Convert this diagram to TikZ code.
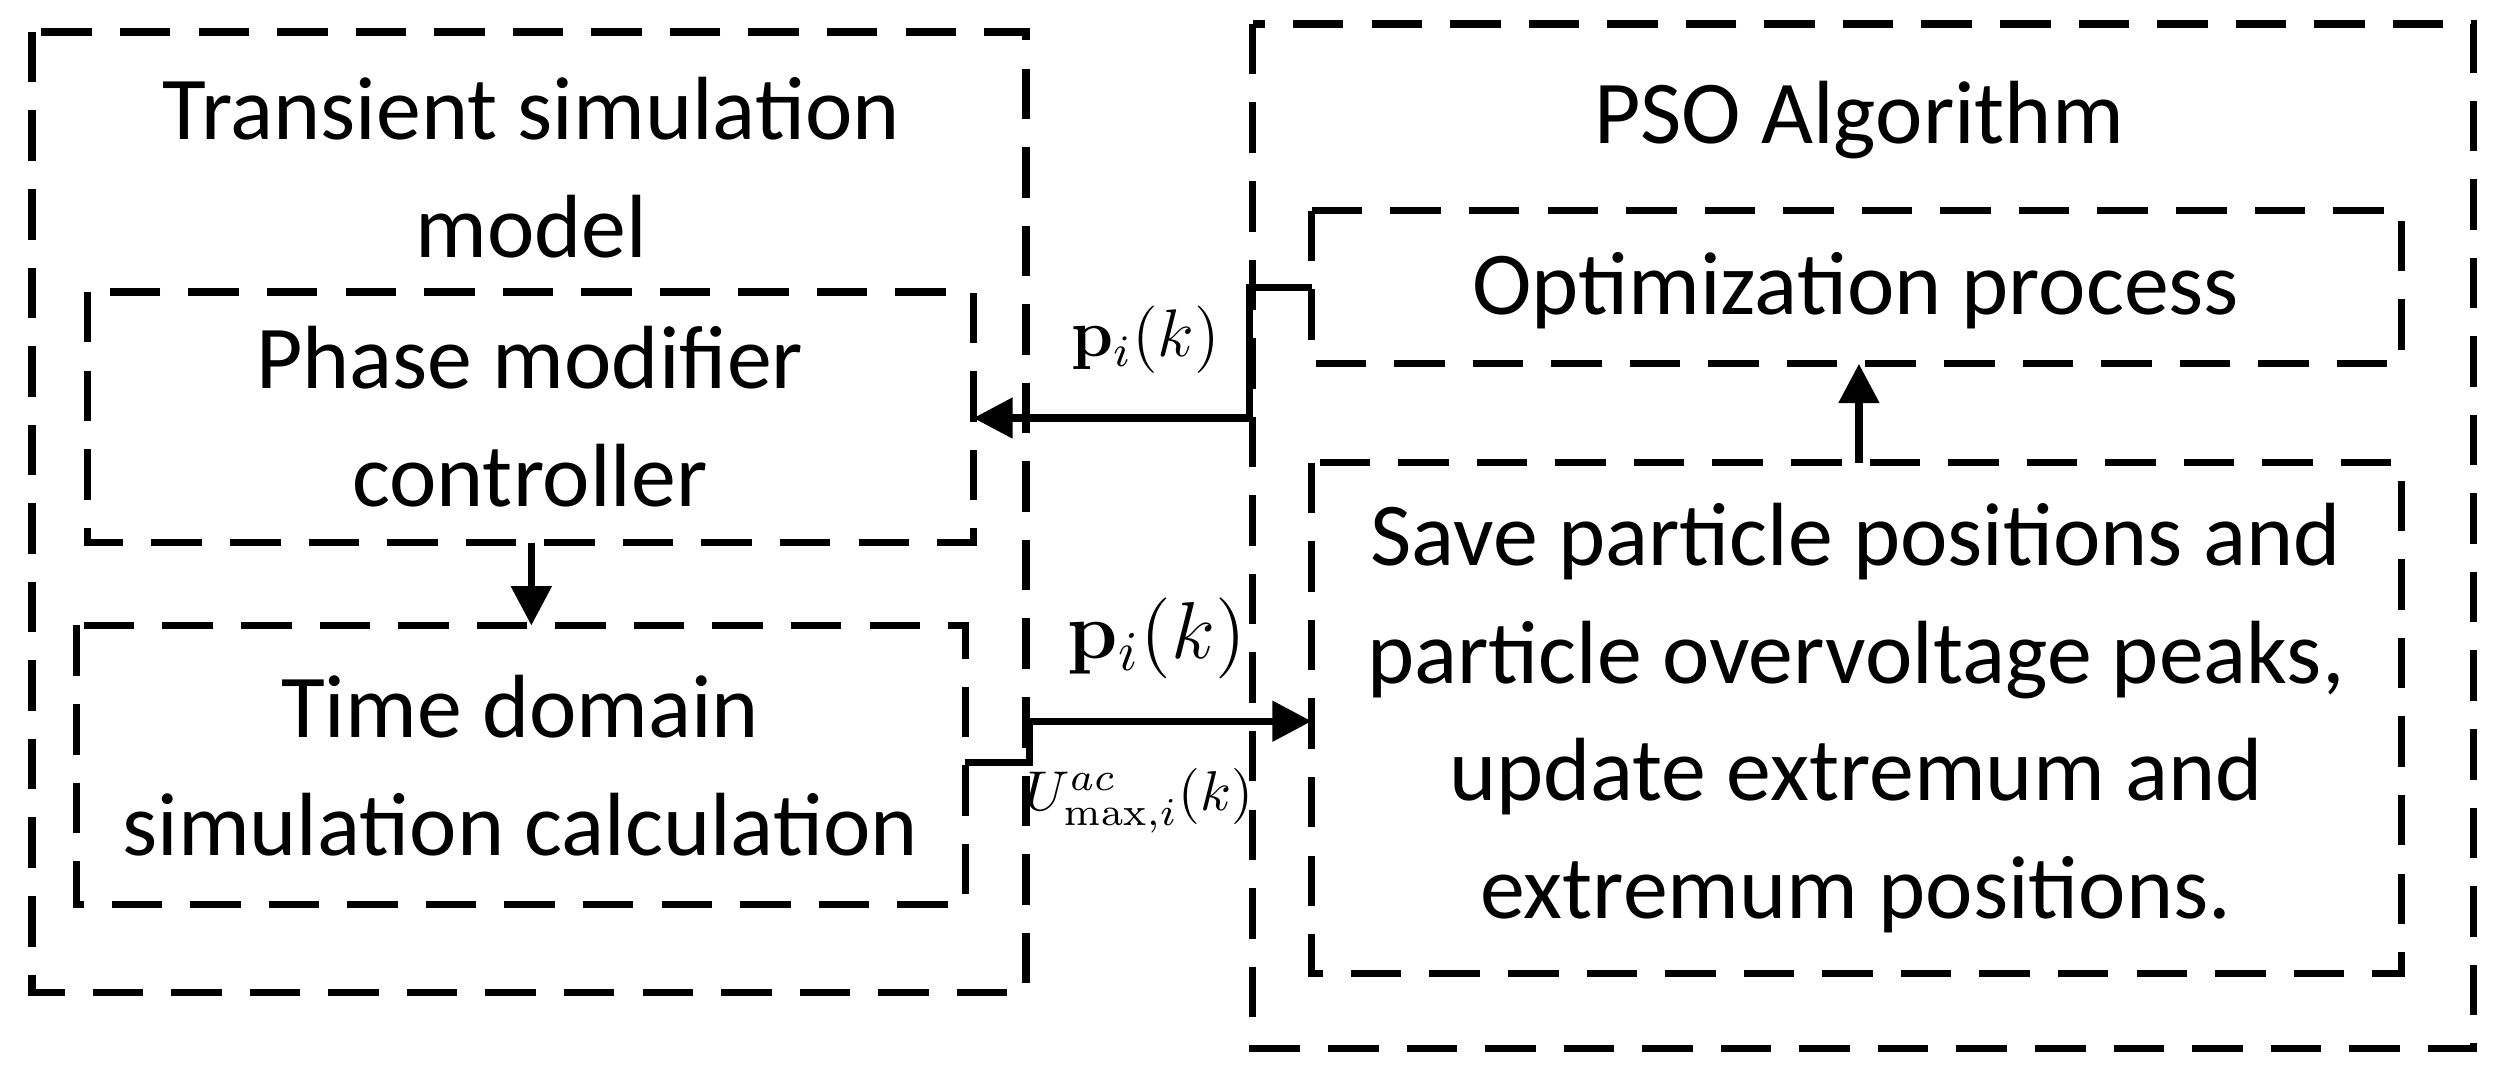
\documentclass[tikz,border=0pt]{standalone}
\usepackage{amsmath}
\usepackage[no-math]{fontspec}
\setmainfont{Carlito}
\usetikzlibrary{arrows.meta}
\begin{document}
\begin{tikzpicture}[x=0.01cm,y=-0.01cm,
  dbox/.style={draw,line width=1.3pt,dash pattern=on 9pt off 5pt},
  conn/.style={line width=1.3pt,-{Triangle[length=7pt,width=7pt]}},
  txt/.style={font=\fontsize{16}{21}\selectfont,align=center}]
\useasboundingbox (0,0) rectangle (1568,674);
\draw[dbox] (20,20) rectangle (643,622);
\draw[dbox] (785,15) rectangle (1550,657);
\draw[dbox] (55,183) rectangle (610,340);
\node[txt] (phasetxt) at (332,261) {Phase modifier\\controller};
\draw[dbox] (48,392) rectangle (605,567);
\node[txt] (timetxt) at (326,480) {Time domain\\simulation calculation};
\draw[dbox] (822,132) rectangle (1505,228);
\node[txt] (opttxt) at (1163,182) {Optimization process};
\draw[dbox] (822,290) rectangle (1505,610);
\node[txt] (savetxt) at (1163,450) {Save particle positions and\\particle overvoltage peaks,\\update extremum and\\extremum positions.};
\node[txt] (ttitle) at (333,105) {Transient simulation\\model};
\node[txt] (ptitle) at (1165,75) {PSO Algorithm};
\coordinate (optL) at (822,180);
\coordinate (phaseR) at (610,262);
\coordinate (timeR) at (605,478);
\coordinate (saveL) at (822,452);
\coordinate (phaseB) at (333,340);
\coordinate (timeT) at (333,392);
\coordinate (saveT) at (1165,290);
\coordinate (optB) at (1165,228);
\draw[conn] (optL) -- (783,180) -- (783,262) -- (phaseR);
\draw[conn] (timeR) -- (645,478) -- (645,452) -- (saveL);
\draw[conn] (phaseB) -- (timeT);
\draw[conn] (saveT) -- (optB);
\node[font=\fontsize{12}{14}\selectfont] (l1) at (718,213) {$\mathbf{p}_i(k)$};
\node[font=\fontsize{14}{16}\selectfont] (l2) at (725,400) {$\mathbf{p}_i(k)$};
\node[font=\fontsize{10}{12}\selectfont,inner sep=1pt] (l3) at (714,502) {$U^{ac}_{\max,i}(k)$};
\end{tikzpicture}
\end{document}
